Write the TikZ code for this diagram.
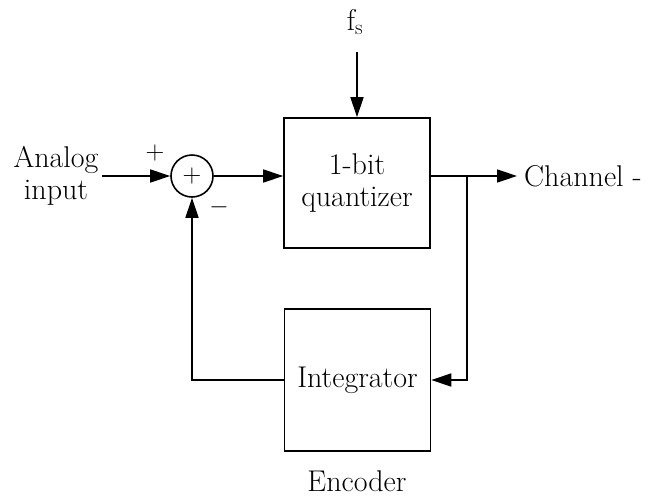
\documentclass[tikz,border=0pt]{standalone}
\usetikzlibrary{arrows.meta,calc}
\begin{document}
\begin{tikzpicture}[x=1pt,y=-1pt,
  every node/.style={font=\fontsize{30}{32}\selectfont, inner sep=0pt},
  blk/.style={draw, line width=1.6pt, minimum width=146pt},
  wire/.style={line width=1.6pt},
  arr/.style={wire, -{Triangle[length=20pt,width=13pt]}},
  lbl/.style={align=center}]
\useasboundingbox (0,0) rectangle (649,499);
\node[lbl] (in) at (56,176) {Analog\\input};
\node[draw, circle, line width=1.6pt, minimum size=42pt, font=\fontsize{26}{26}\selectfont] (sum) at (192,176) {+};
\node[blk, minimum height=130pt, lbl] (quant) at (357,183) {1-bit\\quantizer};
\node[blk, minimum height=142pt] (integ) at (357.5,380) {Integrator};
\node (fs) at (355,22) {f\textsubscript{s}};
\node[anchor=west] (chan) at (524,176) {Channel -};
\node (enc) at (357,481) {Encoder};
\node[font=\fontsize{26}{26}\selectfont] (plus) at (155,153) {+};
\node[font=\fontsize{26}{26}\selectfont] (minus) at (219,207) {$-$};
\coordinate (inS) at (102,176);
\coordinate (fsS) at (357,52);
\coordinate (outE) at (517,176);
\coordinate (br) at (467,176);
\draw[arr] (inS) -- (sum.west);
\draw[arr] (sum.east) -- (sum.east -| quant.west);
\draw[arr] (fsS) -- (quant.north);
\draw[arr] (sum.east -| quant.east) -- (outE);
\draw[arr] (br) |- (integ.east);
\draw[arr] (integ.west) -| (sum.south);
\end{tikzpicture}
\end{document}
